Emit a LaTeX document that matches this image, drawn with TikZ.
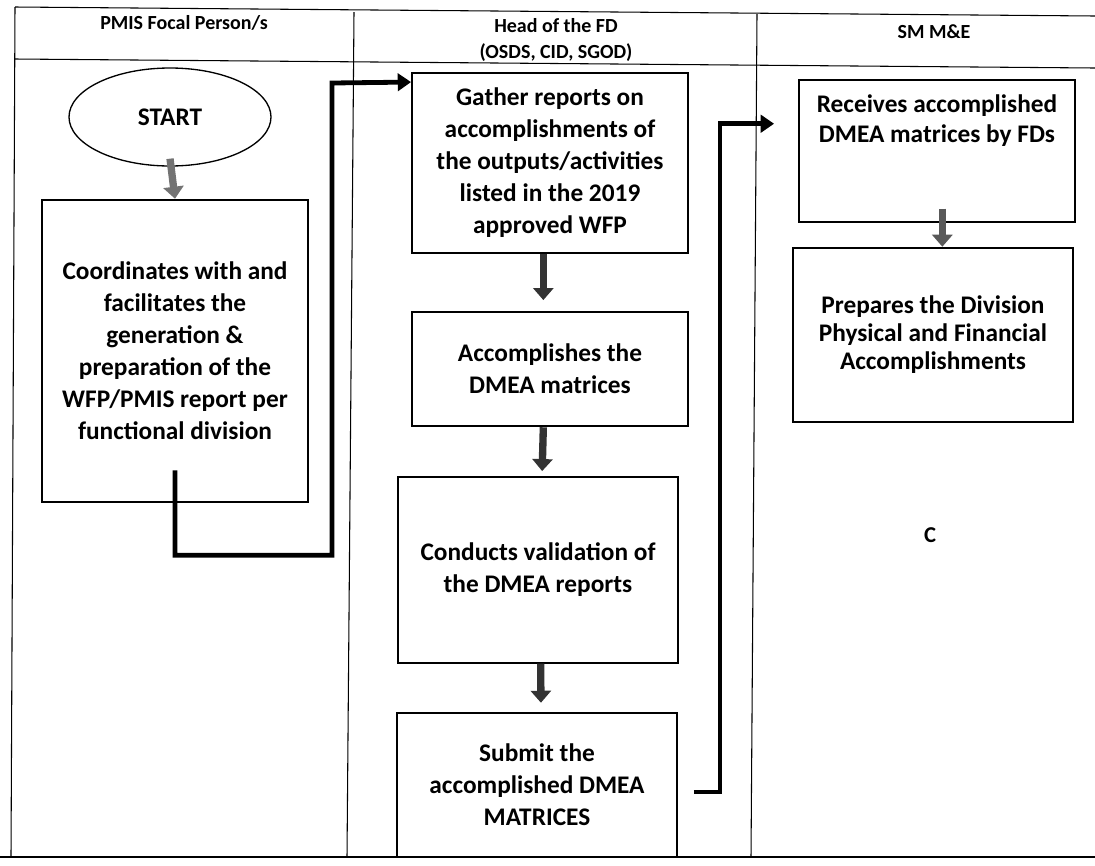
\documentclass[tikz,border=0pt]{standalone}
\usepackage{fontspec}
\setmainfont{Carlito}
\usetikzlibrary{arrows.meta,shapes.geometric,calc}

\tikzset{
  stepbox/.style={draw, line width=1.4pt, align=center, inner sep=0pt,
    font=\bfseries\fontsize{19}{24}\selectfont},
  lanehead/.style={align=center, font=\bfseries\fontsize{15}{19}\selectfont},
  flow/.style={line width=5.5pt, draw=black!80, -{Triangle[length=9pt,width=15pt]}},
  link/.style={line width=3.6pt, -{Triangle[length=10pt,width=13pt]}},
}

\begin{document}
\begin{tikzpicture}[x=0.75pt,y=-0.75pt]
  \useasboundingbox (0,0) rectangle (1095,865);

  % Swim lanes
  \draw[line width=0.8pt] (15,7) -- (1095,16); % top edge
  \draw[line width=0.8pt] (15,59) -- (1095,68); % under the lane titles
  \draw[line width=0.8pt] (15,7) -- (11,857); % left edge
  \draw[line width=0.8pt] (354,12) -- (347,857);
  \draw[line width=0.8pt] (757,14) -- (751,857);
  \draw[line width=2pt] (0,857) -- (1095,857); % bottom edge

  \node[lanehead] (lane1) at (184,23) {PMIS Focal Person/s};
  \node[lanehead] (lane2) at (556,40) {Head of the FD\\(OSDS, CID, SGOD)};
  \node[lanehead] (lane3) at (934,32) {SM M\&E};

  % Steps
  \node[draw, ellipse, line width=1pt, minimum width=151.5pt, minimum height=73.5pt,
    font=\bfseries\fontsize{19}{24}\selectfont] (start) at (170,117) {START};
  \node[stepbox, minimum width=199.5pt, minimum height=227pt] (coord) at (175,351)
    {Coordinates with and\\facilitates the\\generation \&\\preparation of the\\WFP/PMIS report per\\functional division};
  \node[stepbox, minimum width=207pt, minimum height=135pt] (gather) at (550,163)
    {Gather reports on\\accomplishments of\\the outputs/activities\\listed in the 2019\\approved WFP};
  \node[stepbox, minimum width=207pt, minimum height=86pt] (accomp) at (550,369)
    {Accomplishes the\\DMEA matrices};
  \node[stepbox, minimum width=210pt, minimum height=139pt] (valid) at (538,570)
    {Conducts validation of\\the DMEA reports};
  \node[stepbox, minimum width=210pt, minimum height=108pt] (submit) at (537,785)
    {Submit the\\accomplished DMEA\\MATRICES};
  \node[stepbox, minimum width=207pt, minimum height=107pt] (receive) at (937,151) {};
  \node[align=center, font=\bfseries\fontsize{19}{22.5}\selectfont] (recvtext) at (937,121)
    {Receives accomplished\\DMEA matrices by FDs};
  \node[stepbox, minimum width=210pt, minimum height=131pt,
    font=\bfseries\fontsize{19}{21}\selectfont] (prepare) at (933,335)
    {Prepares the Division\\Physical and Financial\\Accomplishments};
  \node[font=\bfseries\fontsize{17}{20}\selectfont] (cmark) at (930,535) {C};

  % Arrows inside the lanes
  \draw[flow, draw=black!55] ([yshift=6pt]start.south) -- (coord.north);
  \draw[flow, shorten >=8pt] ([xshift=-5pt]gather.south) -- ([xshift=-5pt]accomp.north);
  \draw[flow, shorten >=4pt] ([xshift=-5pt]accomp.south) -- ([xshift=3pt]valid.north);
  \draw[flow, shorten >=7pt] ([xshift=2pt]valid.south) -- ([xshift=3pt]submit.north);
  \draw[flow, draw=black!65] ([yshift=11pt,xshift=4pt]receive.south) -- ([xshift=7pt]prepare.north);

  % Links between the lanes
  \coordinate (g-in) at ($(gather.north west)+(0,10)$);
  \coordinate (r-in) at ($(receive.north west)+(-24,45)$);
  \draw[link] ($(coord.south)+(0,-33)$) -- ++(0,85) -| (332,83) -- (g-in);
  \draw[link] ($(submit.east)+(16,7)$) -- ++(26,0) |- (r-in);
\end{tikzpicture}
\end{document}
